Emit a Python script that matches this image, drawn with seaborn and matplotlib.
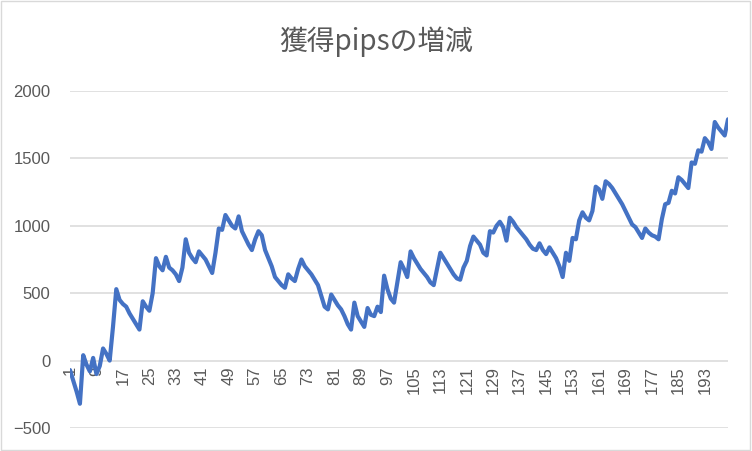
import matplotlib
matplotlib.use("Agg")
import matplotlib.pyplot as plt
import seaborn as sns
import numpy as np
import pandas as pd

# 獲得pipsの累積
pips = [
    -70, -150, -230, -320, 40, -30, -80, 20, -100, -40,
    90, 50, 0, 250, 530, 450, 420, 400, 350, 310,
    270, 230, 440, 400, 370, 500, 760, 700, 670, 770,
    690, 670, 640, 590, 690, 900, 800, 760, 730, 810,
    780, 750, 700, 650, 800, 980, 970, 1080, 1040, 1000,
    980, 1070, 960, 910, 860, 820, 900, 960, 930, 820,
    760, 700, 620, 590, 560, 540, 640, 610, 590, 680,
    750, 700, 670, 640, 600, 560, 480, 400, 380, 490,
    450, 410, 380, 330, 270, 230, 430, 330, 290, 250,
    390, 340, 330, 400, 360, 630, 530, 460, 430, 580,
    730, 680, 620, 810, 760, 720, 680, 650, 620, 580,
    560, 680, 800, 760, 720, 680, 640, 610, 600, 690,
    740, 850, 920, 890, 860, 800, 780, 960, 950, 1000,
    1030, 990, 890, 1060, 1030, 990, 960, 930, 900, 860,
    830, 820, 870, 820, 790, 840, 800, 760, 700, 620,
    800, 740, 910, 900, 1040, 1100, 1060, 1040, 1110, 1290,
    1270, 1200, 1330, 1310, 1280, 1240, 1200, 1160, 1110, 1060,
    1010, 990, 950, 910, 980, 950, 930, 920, 900, 1050,
    1160, 1170, 1260, 1240, 1360, 1340, 1310, 1280, 1470, 1460,
    1560, 1550, 1650, 1620, 1570, 1770, 1730, 1700, 1670, 1790,
]
trade_no = list(range(1, len(pips) + 1))
y_ticks = [-500, 0, 500, 1000, 1500, 2000]
x_ticks = list(range(1, len(pips) + 1, 8))

df = pd.DataFrame({"No": trade_no, "pips": pips})

sns.set_style("white")
plt.rcParams["font.family"] = ["Liberation Sans", "Noto Sans CJK JP", "DejaVu Sans"]

fig = plt.figure(figsize=(7.52, 4.51), dpi=100)
ax = fig.add_axes([70 / 752, 1 - 428 / 451, 658 / 752, 337 / 451])

sns.lineplot(data=df, x="No", y="pips", ax=ax, color="#4472C4",
             linewidth=3.0, solid_joinstyle="round", solid_capstyle="round")

ax.set_xlim(1, len(pips))
ax.set_ylim(-500, 2000)
ax.set_yticks(y_ticks)
ax.set_xticks(x_ticks)
ax.set_xticklabels([str(t) for t in x_ticks])
ax.grid(axis="y", color="#d9d9d9", linewidth=1.1)
ax.set_axisbelow(True)
for s in ax.spines.values():
    s.set_visible(False)
ax.spines["bottom"].set_position(("data", 0))
ax.tick_params(axis="y", length=0, pad=14, labelsize=12, labelcolor="#595959")
ax.tick_params(axis="x", length=0, pad=4, labelsize=12, labelcolor="#595959",
               labelrotation=90)
ax.set_xlabel("")
ax.set_ylabel("")

fig.text(0.5, 1 - 42 / 451, "獲得pipsの増減", ha="center", va="center",
         fontsize=20, color="#595959",
         family=["Noto Sans CJK JP", "DejaVu Sans"])

fig.patches.append(plt.Rectangle((0.001, 0.002), 0.997, 0.996, transform=fig.transFigure,
                                 fill=False, edgecolor="#d9d9d9", linewidth=1))

fig.savefig("out.png", dpi=100)
